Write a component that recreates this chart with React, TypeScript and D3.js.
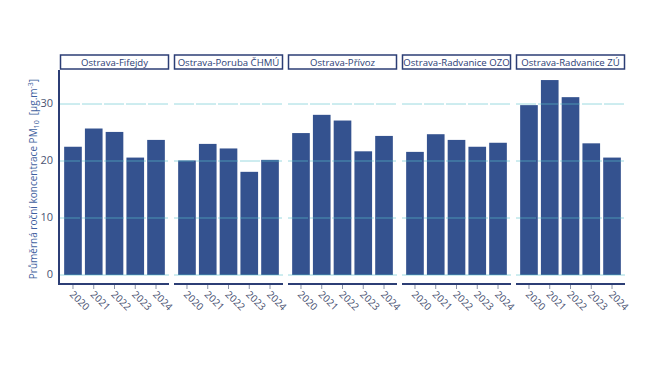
import React from "react";
import * as d3 from "d3";

const stations = [
  "Ostrava-Fifejdy",
  "Ostrava-Poruba ČHMÚ",
  "Ostrava-Přívoz",
  "Ostrava-Radvanice OZO",
  "Ostrava-Radvanice ZÚ",
];
const years = ["2020", "2021", "2022", "2023", "2024"];
const fifejdy = [22.5, 25.7, 25.1, 20.6, 23.7];
const poruba = [20.1, 23.0, 22.2, 18.1, 20.2];
const privoz = [24.9, 28.1, 27.1, 21.7, 24.4];
const radvaniceOzo = [21.6, 24.7, 23.7, 22.5, 23.2];
const radvaniceZu = [29.8, 34.2, 31.2, 23.1, 20.6];
const yTicks = [0, 10, 20, 30];

const seriesValues = [fifejdy, poruba, privoz, radvaniceOzo, radvaniceZu];

const W = 667;
const H = 375;
const plotLeft = 60;
const panelW = 109;
const panelGap = 5;
const plotTop = 70;
const zeroY = 275;
const axisY = 284;
const font = "'Open Sans', 'Noto Sans', sans-serif";

export default function App() {
  const y = d3.scaleLinear().domain([0, 36]).range([zeroY, zeroY - 36 * 5.7]);
  const panelX = d3
    .scaleBand<string>()
    .domain(stations)
    .range([plotLeft, plotLeft + stations.length * panelW + (stations.length - 1) * panelGap])
    .paddingInner(panelGap / (panelW + panelGap));

  return (
    <svg width={W} height={H} style={{ position: "absolute", left: 0, top: 0 }}>
      <rect width={W} height={H} fill="#fff" />
      {stations.map((st, i) => {
        const px = panelX(st)!;
        const pw = panelX.bandwidth();
        const x = d3.scaleBand<string>().domain(years).range([px, px + pw]).paddingInner(0.15).paddingOuter(0.2);
        const vals = seriesValues[i];
        return (
          <g key={st}>
            {/* strip */}
            <rect x={px + 0.5} y={55} width={pw - 1} height={14} fill="#fff" stroke="#2c3e75" strokeWidth={1.5} />
            <text x={px + pw / 2} y={65.5} textAnchor="middle" fontFamily={font} fontSize={9.6} fill="#2c3e75">
              {st}
            </text>
            {/* bars */}
            {vals.map((v, j) => (
              <rect key={j} x={x(years[j])} y={y(v)} width={x.bandwidth()} height={y(0) - y(v)} fill="#34528f" />
            ))}
            {/* gridlines */}
            {yTicks.map((t) => (
              <line
                key={t}
                x1={px}
                x2={px + pw}
                y1={y(t)}
                y2={y(t)}
                stroke="#5cc3cb"
                strokeOpacity={0.6}
                strokeWidth={1}
                strokeDasharray={t === 0 ? undefined : "20,2"}
              />
            ))}
            {/* bottom axis */}
            <line x1={px} x2={px + pw} y1={axisY} y2={axisY} stroke="#2c3e75" strokeWidth={2} />
            {years.map((yr) => {
              const cx = x(yr)! + x.bandwidth() / 2;
              return (
                <g key={yr}>
                  <line x1={cx} x2={cx} y1={axisY + 1} y2={axisY + 5} stroke="#8a93a8" strokeWidth={1} />
                  <text
                    transform={`translate(${cx - 2},${axisY + 9}) rotate(45)`}
                    fontFamily={font}
                    fontSize={10}
                    fill="#4a5372"
                    dominantBaseline="middle"
                  >
                    {yr}
                  </text>
                </g>
              );
            })}
          </g>
        );
      })}
      {/* left axis */}
      <line x1={59} x2={59} y1={plotTop} y2={axisY + 1} stroke="#2c3e75" strokeWidth={2} />
      {yTicks.map((t) => (
        <text key={t} x={53} y={y(t)} textAnchor="end" dominantBaseline="middle" fontFamily={font} fontSize={11} fill="#4a5372">
          {t}
        </text>
      ))}
      <text
        transform={`translate(37,${179}) rotate(-90)`}
        textAnchor="middle"
        fontFamily={font}
        fontSize={10}
        fill="#3f5fa0"
      >
        Průměrná roční koncentrace PM
        <tspan fontSize={7} dy={2}>10</tspan>
        <tspan dy={-2}>{"\u00A0\u00A0[μg.m"}</tspan>
        <tspan fontSize={7} dy={-4}>-3</tspan>
        <tspan dy={4}>]</tspan>
      </text>
    </svg>
  );
}
